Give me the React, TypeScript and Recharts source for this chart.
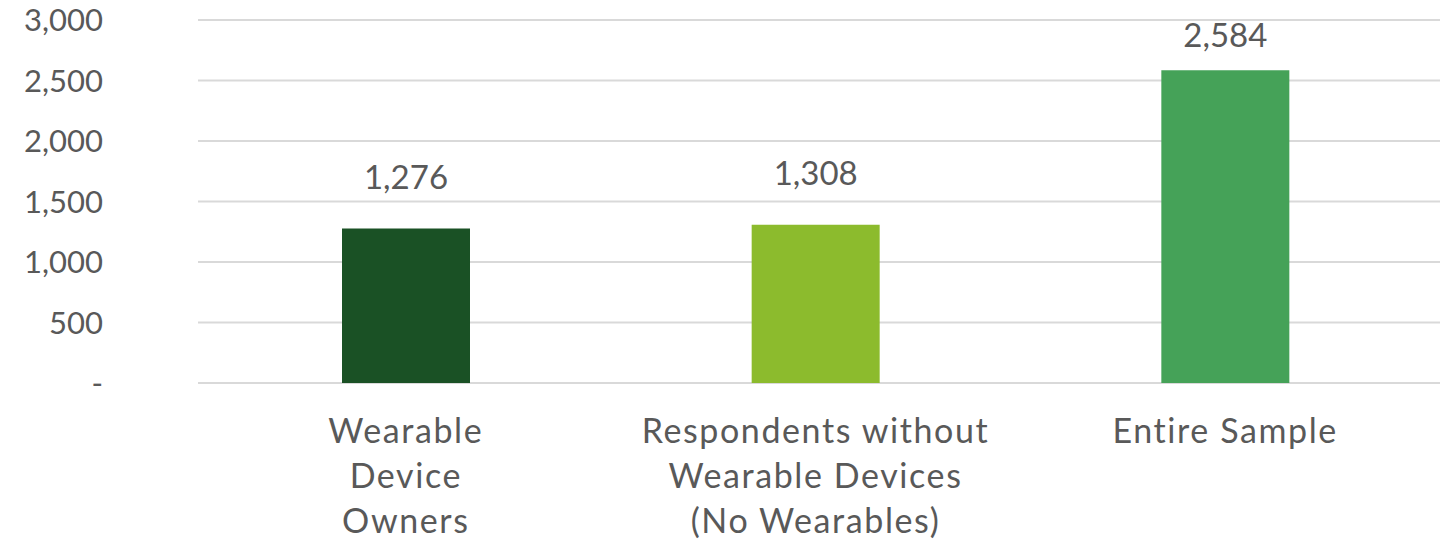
import { Bar, BarChart, CartesianGrid, Cell, LabelList, XAxis, YAxis } from "recharts";

const CATEGORIES = ["Wearable Device Owners", "Respondents without Wearable Devices (No Wearables)", "Entire Sample"];
const CATEGORY_LINES = [
  ["Wearable", "Device", "Owners"],
  ["Respondents without", "Wearable Devices", "(No Wearables)"],
  ["Entire Sample"],
];
const COUNTS = [1276, 1308, 2584];
const BAR_COLORS = ["#1A5125", "#8CBB2D", "#45A258"];
const Y_TICKS = [0, 500, 1000, 1500, 2000, 2500, 3000];

const TEXT = "#595959";
const GRID = "#D9D9D9";
const FONT = "Lato, 'Open Sans', sans-serif";

const rows = CATEGORIES.map((name, i) => ({ name, count: COUNTS[i], idx: i }));

function fmt(v: number): string {
  return v === 0 ? "-" : v.toLocaleString("en-US");
}

function CategoryTick({ x, y, index }: any) {
  const lines = CATEGORY_LINES[index] ?? [];
  return (
    <text x={x} y={y} textAnchor="middle" fill={TEXT} fontSize={34} letterSpacing={1.6} fontFamily={FONT}>
      {lines.map((l, i) => (
        <tspan key={i} x={x} y={y + 52 + i * 45}>
          {l}
        </tspan>
      ))}
    </text>
  );
}

// value label above the bar; kept inside the chart area like the spreadsheet does
function ValueLabel({ x, y, width, value }: any) {
  const baseline = Math.max(y - 40, 47);
  return (
    <text x={x + width / 2} y={baseline} textAnchor="middle" fill={TEXT} fontSize={33} fontFamily={FONT}>
      {Number(value).toLocaleString("en-US")}
    </text>
  );
}

export default function App() {
  return (
    <div style={{ position: "absolute", left: 0, top: 0, background: "#fff" }}>
      <BarChart
        width={1445}
        height={542}
        data={rows}
        margin={{ top: 20, right: 5, bottom: 0, left: 0 }}
      >
        <CartesianGrid stroke={GRID} strokeWidth={2} vertical={false} />
        <XAxis
          dataKey="name"
          axisLine={false}
          tickLine={false}
          height={159}
          interval={0}
          padding={{ left: 3, right: 10 }}
          tick={<CategoryTick />}
        />
        <YAxis
          domain={[0, 3000]}
          ticks={Y_TICKS}
          width={198}
          axisLine={false}
          tickLine={false}
          tickSize={0}
          tickMargin={95}
          tickFormatter={fmt}
          tick={{ fill: TEXT, fontSize: 31, fontFamily: FONT }}
        />
        <Bar dataKey="count" barSize={128} isAnimationActive={false}>
          {rows.map((r) => (
            <Cell key={r.idx} fill={BAR_COLORS[r.idx]} />
          ))}
          <LabelList dataKey="count" content={<ValueLabel />} />
        </Bar>
      </BarChart>
    </div>
  );
}
